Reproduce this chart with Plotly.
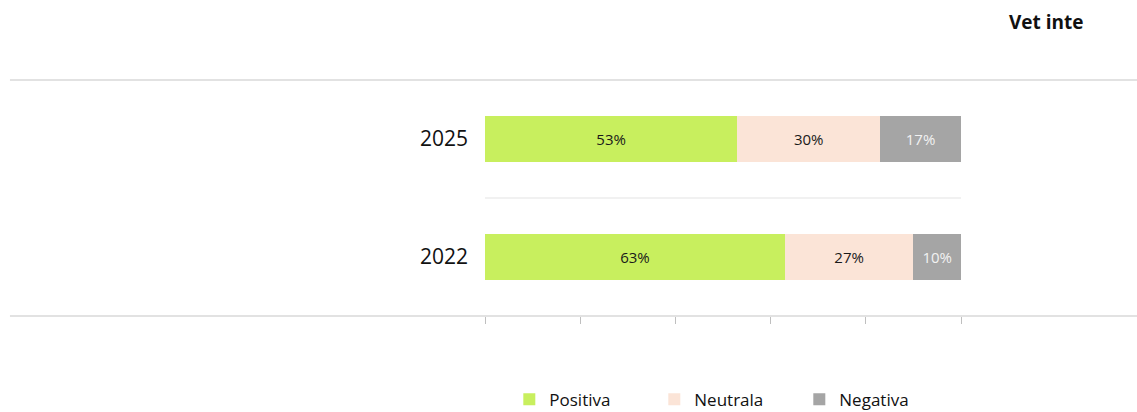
import plotly.graph_objects as go

years = ["2022", "2025"]
positiva = [63, 53]
neutrala = [27, 30]
negativa = [10, 17]
vet_inte = ["48%", "50%"]
series_names = ["Positiva", "Neutrala", "Negativa"]
colors = ["#C8EF5E", "#FBE4D7", "#A5A5A5"]
text_colors = ["#1a1a1a", "#1a1a1a", "#F2F2F2"]
x_ticks = [0, 20, 40, 60, 80, 100]

FONT = "Open Sans"
fig = go.Figure()
for name, vals, col, tc in zip(series_names, [positiva, neutrala, negativa], colors, text_colors):
    fig.add_trace(go.Bar(
        y=years, x=vals, name=name, orientation="h",
        marker=dict(color=col, line=dict(width=0)),
        text=[f"{v}%" for v in vals], textposition="inside", insidetextanchor="middle",
        textfont=dict(family=FONT, size=15, color=tc),
        width=0.39, hoverinfo="skip",
    ))

fig.update_layout(
    barmode="stack",
    width=1137, height=412,
    margin=dict(l=485, r=176, t=80, b=96, autoexpand=False),
    paper_bgcolor="white", plot_bgcolor="white",
    font=dict(family=FONT, color="#111111"),
    showlegend=True,
    legend=dict(orientation="h", x=0.508, xanchor="center", y=-0.355, yanchor="middle",
                font=dict(family=FONT, size=17, color="#111111"),
                entrywidth=100, traceorder="normal", itemclick=False,
                itemwidth=30, tracegroupgap=0),
)
fig.update_xaxes(range=[0, 100], tickvals=x_ticks, showticklabels=False, ticks="outside",
                 ticklen=7, tickcolor="#BFBFBF", tickwidth=1, showgrid=False, zeroline=False,
                 showline=False, fixedrange=True)
fig.update_yaxes(range=[-0.5, 1.5], type="category", categoryorder="array", categoryarray=years,
                 showgrid=False, zeroline=False, showline=False, ticks="", ticklabelstandoff=16,
                 tickfont=dict(family=FONT, size=21, color="#111111"), fixedrange=True)

# full-width horizontal lines at top and bottom of plot area
for yv in [1.0, 0.0]:
    fig.add_shape(type="line", xref="paper", yref="paper", x0=-0.998, x1=1.37, y0=yv, y1=yv,
                  line=dict(color="#D9D9D9", width=1.5))
# separator between rows
fig.add_shape(type="line", xref="x", yref="y", x0=0, x1=100, y0=0.5, y1=0.5,
              line=dict(color="#E3E3E3", width=1))

fig.add_annotation(xref="paper", yref="paper", x=1.18, y=1.245, text="<b>Vet inte</b>",
                   showarrow=False, xanchor="center", yanchor="middle",
                   font=dict(family=FONT, size=19, color="#111111"))
for yr, v in zip(years, vet_inte):
    fig.add_annotation(xref="paper", yref="y", x=1.361, y=yr, text=v, showarrow=False,
                       xanchor="right", yanchor="middle",
                       font=dict(family=FONT, size=21, color="#111111"))

fig.write_html("out.html", config={"displayModeBar": False},
               post_script="document.body.style.margin='0';")
